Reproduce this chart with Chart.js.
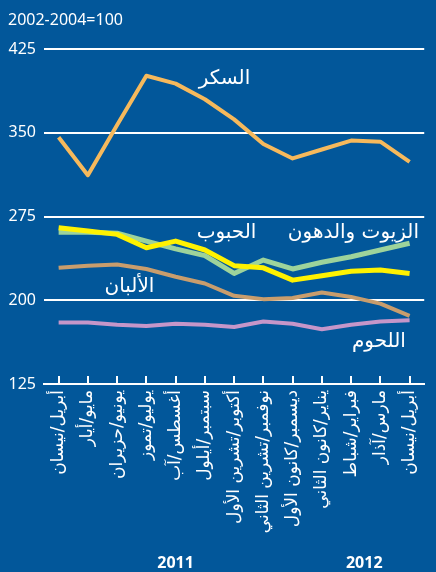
<!DOCTYPE html>
<html>
<head>
<meta charset="utf-8">
<script src="https://cdn.jsdelivr.net/npm/chart.js@4.4.1/dist/chart.umd.min.js"></script>
<style>
  html, body { margin: 0; padding: 0; background: #02579a; }
  #wrap { width: 436px; height: 572px; position: relative; }
</style>
</head>
<body>
<div id="wrap"><canvas id="chart"></canvas></div>
<script>
const months = [
  'أبريل/نيسان', 'مايو/أيار', 'يونيو/حزيران', 'يوليو/تموز', 'أغسطس/آب',
  'سبتمبر/أيلول', 'أكتوبر/تشرين الأول', 'نوفمبر/تشرين الثاني', 'ديسمبر/كانون الأول',
  'يناير/كانون الثاني', 'فبراير/شباط', 'مارس/آذار', 'أبريل/نيسان'
];
const yTicks = [125, 200, 275, 350, 425];
const years = ['2011', '2012'];

const sugar = [346, 312, 357, 401, 394, 380, 362, 340, 327, 335, 343, 342, 324];
const cereals = [265, 262, 259, 247, 253, 245, 231, 229, 218, 222, 226, 227, 224];
const oils = [261, 261, 260, 253, 246, 240, 224, 236, 228, 234, 239, 245, 251];
const dairy = [229, 231, 232, 228, 221, 215, 204, 201, 202, 207, 203, 197, 186];
const meat = [180, 180, 178, 177, 179, 178, 176, 181, 179, 174, 178, 181, 182];

const names = ['السكر', 'الحبوب', 'الزيوت والدهون', 'الألبان', 'اللحوم'];

const arabicFont = '"DejaVu Sans", sans-serif';
const latinFont = '"Noto Sans", "DejaVu Sans", sans-serif';

// where the series names sit, in data units (category index, value)
const nameSpots = [[5.67, 398], [5.74, 260], [10.08, 260], [2.42, 212], [10.95, 163]];
const yearSpots = [4, 10.45];

const extras = {
  id: 'extras',
  afterDraw(chart) {
    const ctx = chart.ctx;
    const x = chart.scales.x;
    const y = chart.scales.y;
    ctx.save();

    // little tick marks rising from the base line
    ctx.strokeStyle = '#ffffff';
    ctx.lineWidth = 2;
    x.ticks.forEach((t, i) => {
      const px = Math.round(x.getPixelForTick(i));
      ctx.beginPath();
      ctx.moveTo(px, y.getPixelForValue(125));
      ctx.lineTo(px, y.getPixelForValue(125) - 8);
      ctx.stroke();
    });

    ctx.fillStyle = '#ffffff';
    ctx.textAlign = 'left';
    ctx.textBaseline = 'middle';
    ctx.font = '16px ' + latinFont;
    ctx.fillText('2002-2004=100', 8, 20);

    ctx.textAlign = 'center';
    ctx.font = '20px ' + arabicFont;
    names.forEach((n, i) => {
      ctx.fillText(n, x.getPixelForValue(nameSpots[i][0]), y.getPixelForValue(nameSpots[i][1]));
    });

    ctx.font = 'bold 16px ' + latinFont;
    years.forEach((yr, i) => {
      ctx.fillText(yr, x.getPixelForValue(yearSpots[i]), chart.height - 9);
    });
    ctx.restore();
  }
};

const line = (data, color, width) => ({
  data: data,
  borderColor: color,
  borderWidth: width,
  pointRadius: 0,
  tension: 0,
  fill: false,
  borderJoinStyle: 'round'
});

new Chart(document.getElementById('chart'), {
  type: 'line',
  data: {
    labels: months,
    datasets: [
      line(sugar, '#f6b95c', 4),
      line(cereals, '#fff200', 5),
      line(oils, '#9dd39b', 5),
      line(dairy, '#c89d6d', 4),
      line(meat, '#c596c9', 4)
    ]
  },
  options: {
    responsive: true,
    maintainAspectRatio: false,
    animation: false,
    layout: { padding: { top: 49, left: 0, right: 0, bottom: 0 } },
    plugins: {
      legend: { display: false },
      tooltip: { enabled: false }
    },
    scales: {
      x: {
        offset: true,
        grid: { display: false, drawTicks: false },
        border: { display: true, color: '#ffffff', width: 2 },
        ticks: {
          autoSkip: false,
          maxRotation: 90,
          minRotation: 90,
          padding: 6,
          color: '#ffffff',
          font: { family: arabicFont, size: 17 }
        },
        afterFit: (s) => { s.height = 188; }
      },
      y: {
        min: 125,
        max: 425,
        afterBuildTicks: (s) => { s.ticks = yTicks.map(v => ({ value: v })); },
        grid: { color: '#ffffff', lineWidth: 2, drawTicks: false },
        border: { display: false },
        ticks: {
          padding: 8,
          color: '#ffffff',
          font: { family: latinFont, size: 16 }
        },
        afterFit: (s) => { s.width = 44; }
      }
    }
  },
  plugins: [extras]
});
</script>
</body>
</html>
